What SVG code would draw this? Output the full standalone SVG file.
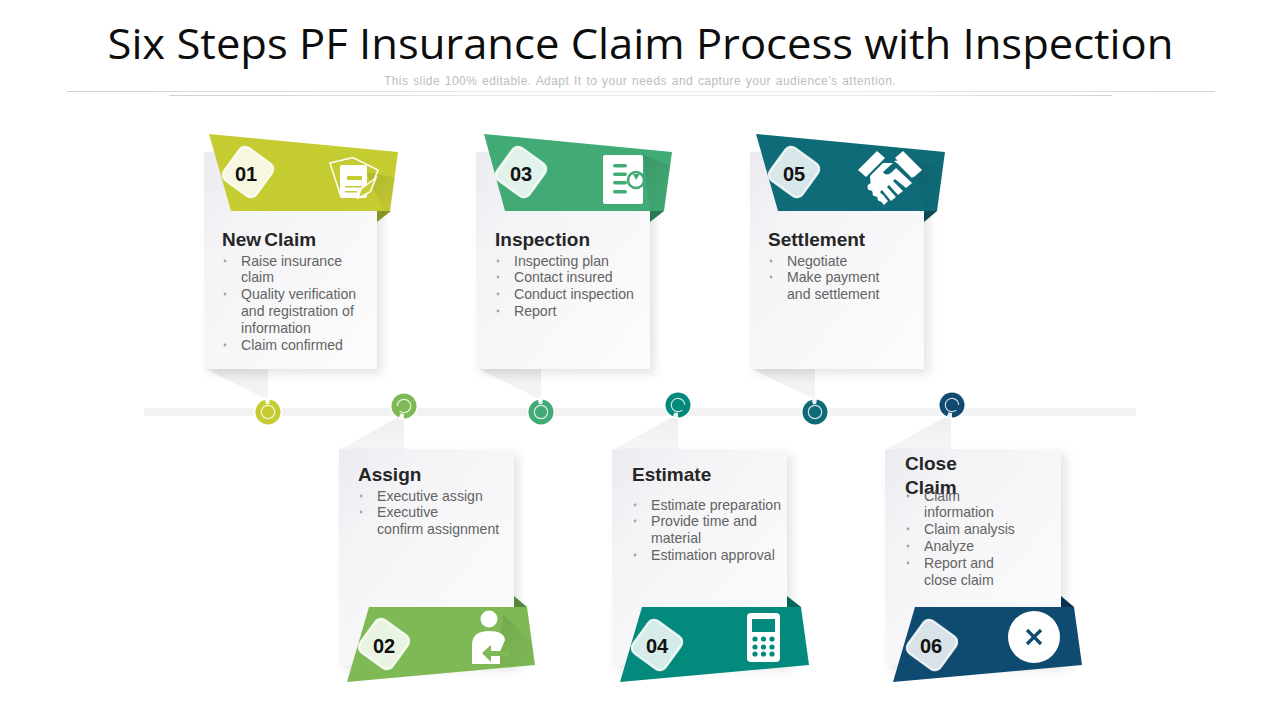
<svg xmlns="http://www.w3.org/2000/svg" width="1280" height="720" viewBox="0 0 1280 720">
<style>
text{font-family:"Liberation Sans",Arial,sans-serif}
.title{font-size:42px;fill:#0d0d0d;font-family:"Open Sans","Noto Sans",sans-serif}
.sub{font-size:12px;fill:#bdbdbd;letter-spacing:.45px;word-spacing:1px}
.h{font-size:19px;font-weight:700;fill:#262626}
.b{font-size:14.1px;fill:#636363}
.dot{fill:#a6a6a6}
.num{font-size:20px;font-weight:700;fill:#111;text-anchor:middle}
.card{fill:url(#cg);filter:url(#sh)}
.tail{fill:url(#tg)}
.ic{fill:#fff}
.badge{fill-opacity:.84;stroke:#fff;stroke-opacity:.85;stroke-width:2.2}
.ring{fill:none;stroke:#fff;stroke-width:1.2;opacity:.8}
.gap{fill:#fff;opacity:.9}
</style>
<defs>
<linearGradient id="cg" x1="0" y1="0" x2="1" y2="1"><stop offset="0" stop-color="#ebebf0"/><stop offset=".25" stop-color="#f4f4f7"/><stop offset="1" stop-color="#fcfcfc"/></linearGradient>
<linearGradient id="tg" x1="0" y1="0" x2="0" y2="1"><stop offset="0" stop-color="#ededed"/><stop offset="1" stop-color="#f6f6f6"/></linearGradient>
<linearGradient id="sd" x1="0" y1="0" x2="1" y2="1"><stop offset="0" stop-color="#000" stop-opacity=".11"/><stop offset="1" stop-color="#000" stop-opacity=".01"/></linearGradient>
<linearGradient id="ln" x1="0" y1="0" x2="1" y2="0"><stop offset="0" stop-color="#cfcfcf"/><stop offset=".4" stop-color="#ececec"/><stop offset=".7" stop-color="#ececec"/><stop offset="1" stop-color="#d6d6d6"/></linearGradient>
<filter id="sh" x="-15%" y="-10%" width="130%" height="120%"><feDropShadow dx="5" dy="5" stdDeviation="5" flood-color="#000" flood-opacity=".1"/></filter>
<clipPath id="c3"><rect x="603" y="155" width="40" height="49" rx="2"/></clipPath>
</defs>
<rect width="1280" height="720" fill="#fff"/>
<g id="header">
<text class="title" x="640.5" y="59" text-anchor="middle" textLength="1066" lengthAdjust="spacingAndGlyphs">Six Steps PF Insurance Claim Process with Inspection</text>
<text class="sub" x="640" y="85" text-anchor="middle">This slide 100% editable. Adapt  It to your needs and capture your audience’s attention.</text>
<rect x="67" y="91" width="1148" height="1" fill="url(#ln)"/>
<rect x="169" y="95" width="943" height="1" fill="url(#ln)"/>
</g>
<g id="connectors">
<rect x="144" y="408" width="992" height="8" fill="#f2f2f2"/>
<path class="tail" d="M206 369H268V400Z"/><path class="tail" d="M479 369H541V400Z"/><path class="tail" d="M752 369H815V400Z"/>
<path class="tail" d="M341 449L404 414V449Z"/><path class="tail" d="M614 449L678 414V449Z"/><path class="tail" d="M887 449L951 414V449Z"/>
</g>
<g id="node-01">
<rect class="card" x="204" y="152" width="173" height="217"/>
<path d="M377 211H391L377 222Z" fill="#8a9420"/>
<path d="M209 134L398 152L390 211H231Z" fill="#c5cc32"/>
<path d="M366 172L396 178L390 211H384Z" fill="url(#sd)"/>
<rect class="badge" x="-20" y="-20" width="40" height="40" rx="7" fill="#fff" transform="translate(248 172) rotate(36)"/>
<text class="num" x="246" y="181">01</text>
<g id="icon-01"><path d="M341 197L330 163L353 157.5L378 170L374 180" fill="none" stroke="#fff" stroke-width="1.5"/><rect x="340" y="165" width="27" height="33" rx="2" fill="#fff"/><rect x="347" y="176" width="15" height="4" fill="#c5cc32"/><rect x="345" y="186" width="17" height="1.5" fill="#c5cc32"/><rect x="345" y="191" width="12" height="1.5" fill="#c5cc32"/><path d="M358 198L361 189L376 178L370 192Z" fill="#c5cc32" stroke="#fff" stroke-width="1.5"/></g>
<text class="h" x="222" y="245.5" word-spacing="-2">New Claim</text>
<circle class="dot" cx="225" cy="261" r="1.4"/><text class="b" x="241" y="266">Raise insurance</text><text class="b" x="241" y="282">claim</text>
<circle class="dot" cx="225" cy="294" r="1.4"/><text class="b" x="241" y="299">Quality verification</text><text class="b" x="241" y="316">and registration of</text><text class="b" x="241" y="333">information</text>
<circle class="dot" cx="225" cy="345" r="1.4"/><text class="b" x="241" y="350">Claim confirmed</text>
</g>
<g id="node-03">
<rect class="card" x="476" y="152" width="174" height="217"/>
<path d="M650 211H664L650 222Z" fill="#2c7a54"/>
<path d="M484 134L672 152L664 211H505Z" fill="#42ab75"/>
<path d="M643 155L670 165L664 211H650Z" fill="url(#sd)"/>
<rect class="badge" x="-20" y="-20" width="40" height="40" rx="7" fill="#fff" transform="translate(521 172) rotate(36)"/>
<text class="num" x="521" y="181">03</text>
<g id="icon-03"><rect class="ic" x="603" y="155" width="40" height="49" rx="2"/><g fill="#42ab75"><rect x="613" y="164" width="14" height="3.6" rx="1.8"/><rect x="613" y="172.5" width="14" height="3.6" rx="1.8"/><rect x="613" y="181" width="14" height="3.6" rx="1.8"/><rect x="613" y="190" width="14" height="3.6" rx="1.8"/></g><g clip-path="url(#c3)"><circle cx="636" cy="180" r="8" fill="#fff" stroke="#42ab75" stroke-width="2.5"/><path d="M636 180L633 174L640 174Z" fill="#42ab75"/><path d="M640 175L646 172V180Z" fill="#42ab75"/></g></g>
<text class="h" x="495" y="245.5">Inspection</text>
<circle class="dot" cx="498" cy="261" r="1.4"/><text class="b" x="514" y="266">Inspecting plan</text>
<circle class="dot" cx="498" cy="277" r="1.4"/><text class="b" x="514" y="282">Contact insured</text>
<circle class="dot" cx="498" cy="294" r="1.4"/><text class="b" x="514" y="299">Conduct inspection</text>
<circle class="dot" cx="498" cy="311" r="1.4"/><text class="b" x="514" y="316">Report</text>
</g>
<g id="node-05">
<rect class="card" x="750" y="152" width="174" height="217"/>
<path d="M924 211H937L924 222Z" fill="#0b4a53"/>
<path d="M756 134L945 152L937 211H778Z" fill="#0f6b78"/>
<path d="M915 160L943 170L937 211H924Z" fill="url(#sd)" opacity=".6"/>
<rect class="badge" x="-20" y="-20" width="40" height="40" rx="7" fill="#fff" transform="translate(794 172) rotate(36)"/>
<text class="num" x="794" y="181">05</text>
<g id="icon-05" class="ic"><path d="M858 170L877 151L885 158L866 177Z"/><path d="M903 151L922 170L914 177L895 158Z"/><path d="M870 176L883 163L893 163L883 172Q886 177 892 172L896 168L912 183L906 188L895 179L893 181L903 191L898 195L889 185L887 187L896 197L891 201L882 190L880 192L888 201L884 205L871 190Z"/><circle cx="871" cy="187" r="3.5"/><circle cx="876" cy="193" r="3.5"/><circle cx="881" cy="198" r="3.5"/><path d="M894 161L902 160L915 175L912 178L898 164Z"/></g>
<text class="h" x="768" y="245.5">Settlement</text>
<circle class="dot" cx="771" cy="261" r="1.4"/><text class="b" x="787" y="266">Negotiate</text>
<circle class="dot" cx="771" cy="277" r="1.4"/><text class="b" x="787" y="282">Make payment</text><text class="b" x="787" y="299">and settlement</text>
</g>
<g id="node-02">
<rect class="card" x="339" y="449" width="175" height="216"/>
<path d="M514 596L527 607H514Z" fill="#55873a"/>
<path d="M369 607H527L535 665L347 682Z" fill="#7fb955"/>
<path d="M503 614L531 642L534.500 664L497 667Z" fill="url(#sd)" opacity=".8"/>
<rect class="badge" x="-20" y="-20" width="40" height="40" rx="7" fill="#fff" transform="translate(384 644) rotate(36)"/>
<text class="num" x="384" y="653">02</text>
<g id="icon-02"><circle class="ic" cx="489" cy="619" r="8.500"/><path class="ic" d="M472 664V645Q472 631 489 631Q504 631 505 640L500 652L488 652L500 656V664Z"/><path d="M482 653L491 645V651H510V656H491V662Z" fill="#7fb955"/></g>
<text class="h" x="358" y="480.500">Assign</text>
<circle class="dot" cx="361" cy="496" r="1.4"/><text class="b" x="377" y="501">Executive assign</text>
<circle class="dot" cx="361" cy="512" r="1.4"/><text class="b" x="377" y="517">Executive</text><text class="b" x="377" y="534">confirm assignment</text>
</g>
<g id="node-04">
<rect class="card" x="612" y="449" width="175" height="216"/>
<path d="M787 596L801 607H787Z" fill="#05655c"/>
<path d="M642 607H801L809 665L620 682Z" fill="#038a7c"/>
<rect class="badge" x="-20" y="-20" width="40" height="40" rx="7" fill="#fff" transform="translate(657 645) rotate(36)"/>
<text class="num" x="657" y="653">04</text>
<g id="icon-04"><rect x="747" y="613" width="33" height="49" rx="4" fill="#fff"/><rect x="752" y="619" width="23" height="13" fill="#038a7c"/><g fill="#038a7c"><circle cx="755" cy="639" r="2.6"/><circle cx="763.500" cy="639" r="2.6"/><circle cx="772" cy="639" r="2.6"/><circle cx="755" cy="647" r="2.6"/><circle cx="763.500" cy="647" r="2.6"/><circle cx="772" cy="647" r="2.6"/><circle cx="755" cy="654" r="2.6"/><circle cx="763.500" cy="654" r="2.6"/><circle cx="772" cy="654" r="2.6"/></g></g>
<text class="h" x="632" y="480.500">Estimate</text>
<circle class="dot" cx="635" cy="505" r="1.4"/><text class="b" x="651" y="510">Estimate preparation</text>
<circle class="dot" cx="635" cy="521" r="1.4"/><text class="b" x="651" y="526">Provide time and</text><text class="b" x="651" y="543">material</text>
<circle class="dot" cx="635" cy="555" r="1.4"/><text class="b" x="651" y="560">Estimation approval</text>
</g>
<g id="node-06">
<rect class="card" x="885" y="449" width="176" height="216"/>
<path d="M1061 596L1074 607H1061Z" fill="#0b3350"/>
<path d="M915 607H1074L1082 665L893 682Z" fill="#0f4a70"/>
<rect class="badge" x="-20" y="-20" width="40" height="40" rx="7" fill="#fff" transform="translate(932 645) rotate(36)"/>
<text class="num" x="931" y="653">06</text>
<g id="icon-06"><circle cx="1034" cy="637" r="26" fill="#fff"/><path d="M1027 630L1041 644M1041 630L1027 644" stroke="#0f4a70" stroke-width="3.2" fill="none"/></g>
<text class="h" x="905" y="470">Close</text><text class="h" x="905" y="493.500">Claim</text>
<circle class="dot" cx="908" cy="496" r="1.4"/><text class="b" x="924" y="501">Claim</text><text class="b" x="924" y="517">information</text>
<circle class="dot" cx="908" cy="529" r="1.4"/><text class="b" x="924" y="534">Claim analysis</text>
<circle class="dot" cx="908" cy="546" r="1.4"/><text class="b" x="924" y="551">Analyze</text>
<circle class="dot" cx="908" cy="563" r="1.4"/><text class="b" x="924" y="568">Report and</text><text class="b" x="924" y="585">close claim</text>
</g>
<g id="dots">
<g id="dot-1"><circle cx="268" cy="412" r="14" fill="#fff" opacity=".8"/><circle cx="268" cy="412" r="12.5" fill="#c5cc32"/><path class="gap" d="M268 412L264.500 398.500H270Z"/><circle cx="268" cy="412" r="8" fill="#c5cc32"/><circle class="ring" cx="268" cy="412" r="6.700"/></g>
<g id="dot-2"><circle cx="404" cy="406" r="14" fill="#fff" opacity=".8"/><circle cx="404" cy="406" r="12.5" fill="#7fb955"/><path class="gap" d="M404 406L398 419H404Z"/><circle cx="404" cy="406" r="8" fill="#7fb955"/><circle class="ring" cx="404" cy="406" r="6.700" stroke-dasharray="36 6" transform="rotate(180 404 406)"/></g>
<g id="dot-3"><circle cx="541" cy="412" r="14" fill="#fff" opacity=".8"/><circle cx="541" cy="412" r="12.5" fill="#42ab75"/><path class="gap" d="M541 412L537.500 398.500H543Z"/><circle cx="541" cy="412" r="8" fill="#42ab75"/><circle class="ring" cx="541" cy="412" r="6.700"/></g>
<g id="dot-4"><circle cx="678" cy="405" r="14" fill="#fff" opacity=".8"/><circle cx="678" cy="405" r="12.5" fill="#038a7c"/><path class="gap" d="M678 405L672 418H678Z"/><circle cx="678" cy="405" r="8" fill="#038a7c"/><circle class="ring" cx="678" cy="405" r="6.700" stroke-dasharray="36 6" transform="rotate(50 678 405)"/></g>
<g id="dot-5"><circle cx="815" cy="412" r="14" fill="#fff" opacity=".8"/><circle cx="815" cy="412" r="12.5" fill="#0f6b78"/><path class="gap" d="M815 412L811.500 398.500H817Z"/><circle cx="815" cy="412" r="8" fill="#0f6b78"/><circle class="ring" cx="815" cy="412" r="6.700"/></g>
<g id="dot-6"><circle cx="952" cy="405" r="14" fill="#fff" opacity=".8"/><circle cx="952" cy="405" r="12.5" fill="#0f4a70"/><path class="gap" d="M952 405L946 418H952Z"/><circle cx="952" cy="405" r="8" fill="#0f4a70"/><circle class="ring" cx="952" cy="405" r="6.700" stroke-dasharray="36 6" transform="rotate(50 952 405)"/></g>
</g>
</svg>
